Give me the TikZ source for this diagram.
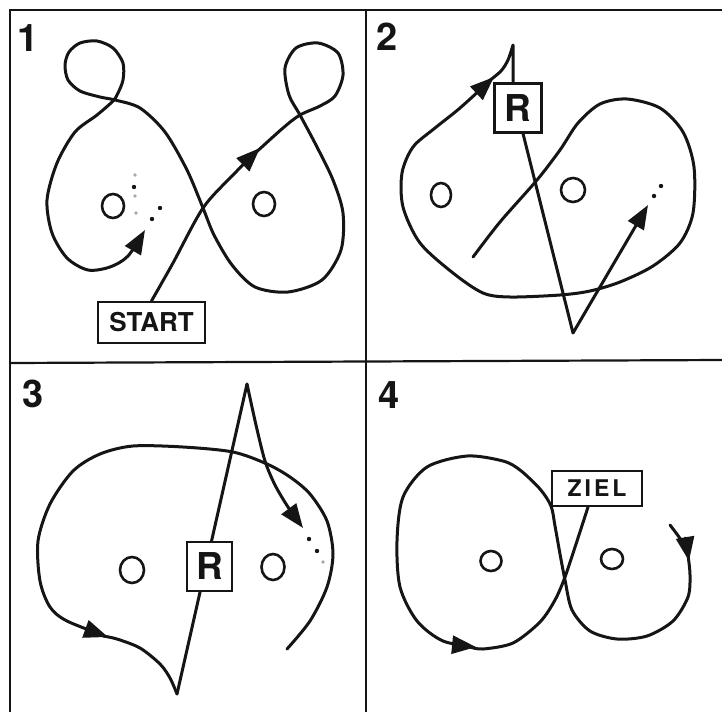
\documentclass[tikz,border=0pt]{standalone}
\usepackage{fontspec}
\setsansfont{TeX Gyre Heros}
\usetikzlibrary{arrows.meta}
\definecolor{ink}{HTML}{151515}
\definecolor{faint}{HTML}{A8A8A8}
\tikzset{
  frame/.style={line width=2.2pt, draw=ink},
  route/.style={line width=3pt, draw=ink, line cap=round, line join=round},
  fwd/.style={route, -{Triangle[length=24pt,width=18pt]}},
  post/.style={line width=2.6pt, draw=ink},
  panelno/.style={font=\sffamily\bfseries\fontsize{38}{38}\selectfont, text=ink, inner sep=0pt},
  sign/.style={rectangle, draw=ink, line width=2.2pt, fill=white, inner sep=0pt, text=ink},
  trail/.style={fill=ink},
  trailfaint/.style={fill=faint}
}

\begin{document}
\begin{tikzpicture}[x=1pt,y=-1pt]
  \useasboundingbox (0,0) rectangle (722,712);
  \draw[frame] (10,712) -- (10,10) -- (722,10);
  \draw[frame] (366,10) -- (366,712);
  \draw[frame] (10,363) -- (722,360);

  \node[panelno] (no1) at (28,38) {1};
  \node[panelno] (no2) at (387,37) {2};
  \node[panelno] (no3) at (33,394) {3};
  \node[panelno] (no4) at (389,395) {4};

  % 1
  \node[sign, minimum width=107pt, minimum height=41pt,
        font=\sffamily\bfseries\fontsize{26}{26}\selectfont] (start) at (151.5,322.5) {START};
  \draw[fwd] plot[smooth] coordinates {(start.north) (173,263) (203,208) (233,175) (260,148)};
  \draw[fwd] plot[smooth] coordinates {(252,156) (283,128) (300,115) (320,106) (335,96) (343,75)
    (338,53) (318,43) (296,48) (285,68) (289,95) (300,115) (317,147) (333,180) (343,213)
    (341,250) (322,280) (288,292) (255,287) (232,265) (214,235) (203,208) (187,170)
    (165,132) (140,108) (115,100) (100,97) (80,91) (68,80) (65,65) (69,52) (80,43) (97,41)
    (113,48) (123,63) (123,80) (118,93) (113,101) (97,115) (75,132) (57,163) (47,200)
    (52,233) (67,258) (88,270) (110,267) (128,256) (145,230)};
  \foreach \p in {(134,187),(160,208),(152,219)} \fill[trail] \p circle[radius=2.2pt];
  \foreach \p in {(135,175),(135,196),(136,213)} \fill[trailfaint] \p circle[radius=1.8pt];
  \draw[post] (113,206) ellipse[x radius=11pt, y radius=12pt];
  \draw[post] (264,204) ellipse[x radius=11pt, y radius=12pt];

  % 2
  \node[sign, minimum width=47pt, minimum height=49pt,
        font=\sffamily\bfseries\fontsize{37}{37}\selectfont] (r2) at (518,108) {R};
  \coordinate (peak2) at (513,45);
  \draw[fwd] plot[smooth] coordinates {(473,257) (500,222) (537,180) (560,150) (578,123)
    (600,104) (627,99) (660,108) (683,132) (694,167) (693,213) (680,243) (653,266)
    (620,282) (590,291) (560,295) (510,297) (483,293) (453,273) (420,243) (403,207)
    (402,173) (413,147) (435,128) (460,108) (494,77)};
  \draw[route] plot[smooth] coordinates {(489,81) (501,71) (508,60) (peak2)} -- (peak2 |- r2.north);
  \draw[fwd] ([xshift=5pt]r2.south) -- (573,333) -- (648,205);
  \foreach \p in {(654,196),(661,186)} \fill[trail] \p circle[radius=2.2pt];
  \draw[post] (441,195) ellipse[x radius=10pt, y radius=12pt];
  \draw[post] (573,190) ellipse[x radius=12pt, y radius=12pt];

  % 3
  \coordinate (v3) at (177,694);
  \coordinate (peak3) at (247,384);
  \draw[route] (v3) -- (peak3);
  \node[sign, minimum width=45pt, minimum height=49pt,
        font=\sffamily\bfseries\fontsize{37}{37}\selectfont] (r3) at (209.5,566.5) {R};
  \draw[fwd] plot[smooth] coordinates {(287,649) (310,621) (327,587) (333,554) (327,521)
    (310,494) (290,477) (267,464) (233,452) (183,447) (133,446) (100,454) (73,471)
    (50,504) (38,541) (40,581) (50,607) (67,621) (108,637)};
  \draw[route] plot[smooth] coordinates {(103,636) (117,639) (140,648) (160,664) (170,678) (v3)};
  \draw[fwd] plot[smooth] coordinates {(peak3) (256,425) (265,461) (275,485) (288,507) (303,528)};
  \foreach \p in {(309,539),(317,551)} \fill[trail] \p circle[radius=2.2pt];
  \fill[trailfaint] (323,562) circle[radius=1.8pt];
  \draw[post] (132,570) ellipse[x radius=12pt, y radius=13pt];
  \draw[post] (273,567) ellipse[x radius=11.5pt, y radius=13pt];

  % 4
  \node[sign, minimum width=90pt, minimum height=35pt,
        font=\sffamily\bfseries\fontsize{23}{23}\selectfont] (ziel) at (597,488.5) {Z\kern3pt I\kern3pt E\kern3pt L};
  \draw[fwd] plot[smooth] coordinates {(670,525) (679,537) (686,548) (689,561)};
  \draw[fwd] plot[smooth] coordinates {(688,555) (690,575) (688,597) (673,621) (647,636)
    (617,639) (590,631) (572,610) (565,580) (560,554) (555,526) (551,506) (540,489)
    (520,470) (503,461) (467,456) (427,467) (403,497) (397,541) (400,587) (417,621)
    (443,641) (476,647)};
  \draw[route] plot[smooth] coordinates {(470,647) (483,649) (513,643) (540,622) (555,600)
    (565,577) (577,541) ([xshift=-9pt]ziel.south)};
  \draw[post] (491,561) ellipse[x radius=10.5pt, y radius=10pt];
  \draw[post] (612,559) ellipse[x radius=11pt, y radius=10pt];
\end{tikzpicture}
\end{document}
